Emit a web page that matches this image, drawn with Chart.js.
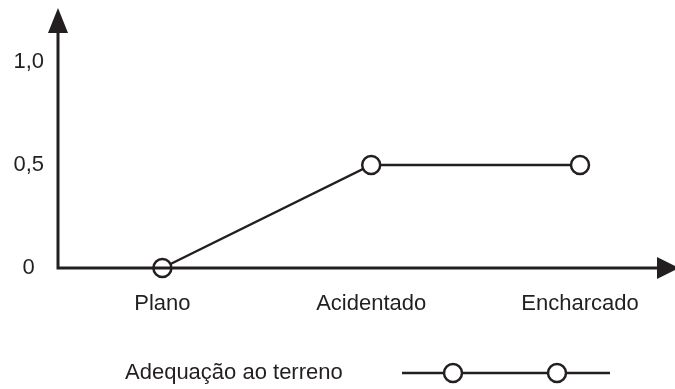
<!DOCTYPE html>
<html>
<head>
<meta charset="utf-8">
<script src="https://cdn.jsdelivr.net/npm/chart.js@4"></script>
<style>
  html, body { margin: 0; padding: 0; background: #fff; }
  #wrap { width: 675px; height: 389px; }
</style>
</head>
<body>
<div id="wrap"><canvas id="chart"></canvas></div>
<script>
// ── DATA ──
const categories  = ['Plano', 'Acidentado', 'Encharcado'];
const adequacao   = [0, 0.5, 0.5];
const seriesLabel = 'Adequação ao terreno';
const yTicks      = [0, 0.5, 1.0];
const yTickLabels = ['0', '0,5', '1,0'];

const INK  = '#231f20';
const FONT = "'Liberation Sans', Arial, sans-serif";

// ── AXES WITH ARROWS + CUSTOM LEGEND ──
const arrowAxes = {
  id: 'arrowAxes',
  afterDatasetsDraw(chart) {
    const { ctx, chartArea: a } = chart;
    ctx.save();
    ctx.strokeStyle = INK;
    ctx.fillStyle = INK;
    ctx.lineWidth = 3;
    ctx.beginPath();
    ctx.moveTo(a.left, a.top + 20);
    ctx.lineTo(a.left, a.bottom);
    ctx.lineTo(a.right - 14, a.bottom);
    ctx.stroke();
    // up arrow
    ctx.beginPath();
    ctx.moveTo(a.left, a.top);
    ctx.lineTo(a.left - 10, a.top + 25);
    ctx.lineTo(a.left + 10, a.top + 25);
    ctx.closePath();
    ctx.fill();
    // right arrow
    const tip = a.right + 4;
    ctx.beginPath();
    ctx.moveTo(tip, a.bottom);
    ctx.lineTo(tip - 22, a.bottom - 11);
    ctx.lineTo(tip - 22, a.bottom + 11);
    ctx.closePath();
    ctx.fill();
    ctx.restore();
  },
  afterDraw(chart) {
    const { ctx } = chart;
    const ds = chart.data.datasets[0];
    const y = 373;
    ctx.save();
    ctx.font = '22px ' + FONT;
    ctx.fillStyle = INK;
    ctx.textBaseline = 'middle';
    ctx.textAlign = 'left';
    ctx.fillText(ds.label, 125, y);
    ctx.strokeStyle = INK;
    ctx.lineWidth = 2.5;
    ctx.beginPath();
    ctx.moveTo(402, y);
    ctx.lineTo(610, y);
    ctx.stroke();
    [453, 557].forEach(cx => {
      ctx.beginPath();
      ctx.arc(cx, y, 9, 0, Math.PI * 2);
      ctx.fillStyle = '#fff';
      ctx.fill();
      ctx.stroke();
    });
    ctx.restore();
  }
};

new Chart(document.getElementById('chart'), {
  type: 'line',
  data: {
    datasets: [{
      label: seriesLabel,
      data: adequacao.map((v, i) => ({ x: i, y: v })),
      borderColor: INK,
      borderWidth: 2.5,
      pointRadius: 9,
      pointBorderWidth: 2.5,
      pointBackgroundColor: '#fff',
      pointBorderColor: INK,
      tension: 0,
      clip: false
    }]
  },
  options: {
    responsive: true,
    maintainAspectRatio: false,
    animation: false,
    layout: { autoPadding: false, padding: { top: 8, right: 0, bottom: 0, left: 0 } },
    plugins: {
      legend: { display: false },
      tooltip: { enabled: false }
    },
    scales: {
      x: {
        type: 'linear',
        min: -0.5,
        max: 2.455,
        grid: { display: false, drawTicks: false },
        border: { display: false },
        afterBuildTicks: s => { s.ticks = categories.map((c, i) => ({ value: i })); },
        afterFit: s => { s.height = 121; s.paddingLeft = 0; s.paddingRight = 0; },
        ticks: {
          padding: 23,
          color: INK,
          font: { family: FONT, size: 22 },
          callback: v => categories[v]
        }
      },
      y: {
        min: 0,
        max: 1.262,
        grid: { display: false, drawTicks: false },
        border: { display: false },
        afterBuildTicks: s => { s.ticks = yTicks.map(v => ({ value: v })); },
        afterFit: s => { s.width = 58; s.paddingTop = 0; s.paddingBottom = 0; },
        ticks: {
          padding: 14,
          crossAlign: 'center',
          color: INK,
          font: { family: FONT, size: 22 },
          callback: v => yTickLabels[yTicks.indexOf(v)]
        }
      }
    }
  },
  plugins: [arrowAxes]
});
</script>
</body>
</html>
